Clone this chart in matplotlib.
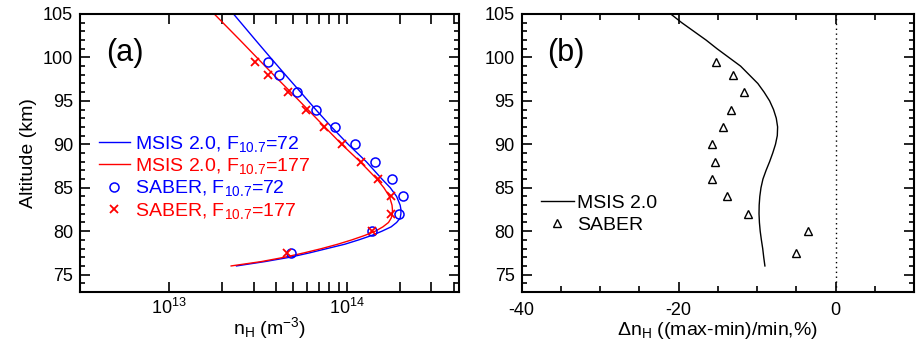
import numpy as np
import matplotlib
matplotlib.use('Agg')
import matplotlib.pyplot as plt
from matplotlib.ticker import FixedLocator, NullFormatter, MultipleLocator

plt.rcParams['font.family'] = ['Liberation Sans', 'DejaVu Sans']
plt.rcParams['mathtext.fontset'] = 'custom'
plt.rcParams['mathtext.rm'] = 'Liberation Sans'
plt.rcParams['mathtext.it'] = 'Liberation Sans'
plt.rcParams['axes.unicode_minus'] = False

# SABER retrievals (altitude in km, n_H in m^-3)
saber_alt = [99.5, 98, 96, 94, 92, 90, 88, 86, 84, 82, 80, 77.5]
saber_f72 = [3.62e13, 4.14e13, 5.25e13, 6.76e13, 8.65e13, 1.11e14,
             1.44e14, 1.79e14, 2.07e14, 1.98e14, 1.39e14, 4.88e13]
saber_f177 = [3.05e13, 3.60e13, 4.65e13, 5.90e13, 7.47e13, 9.39e13,
              1.21e14, 1.51e14, 1.77e14, 1.77e14, 1.38e14, 4.61e13]
saber_diff = [-15.2, -13.1, -11.7, -13.3, -14.4, -15.8,
              -15.4, -15.7, -13.8, -11.1, -3.5, -5.1]

# MSIS 2.0 profiles, n_H in units of 1e13 m^-3
msis_alt = [76.0, 76.5, 77.0, 77.5, 78.0, 78.5, 79.0, 79.5, 80.0, 80.5, 81.0,
            81.5, 82.0, 82.5, 83.0, 84.0, 85.0, 86.0, 88.0, 90.0, 92.0, 94.0,
            96.0, 98.0, 100.0, 102.0, 105.0]
msis_f72 = [2.40, 3.47, 4.79, 6.17, 7.76, 9.77, 11.7, 13.8, 15.8, 17.8, 19.1,
            20.0, 20.2, 20.2, 20.0, 19.1, 17.6, 15.8, 12.9, 10.2, 8.22, 6.70,
            5.51, 4.52, 3.72, 3.07, 2.31]
msis_f177 = [2.24, 3.31, 4.47, 5.75, 7.24, 8.91, 10.7, 12.6, 14.5, 16.0, 17.2,
             17.8, 18.1, 18.1, 18.0, 17.4, 16.2, 14.8, 11.9, 9.38, 7.53, 6.05,
             4.85, 3.88, 3.12, 2.51, 1.80]

# MSIS 2.0 relative difference (%)
diff_alt = [76, 77, 78, 79, 80, 81, 82, 83, 84, 85, 86, 87, 88, 89, 90, 91,
            92, 93, 94, 95, 96, 97, 98, 99, 100, 101, 102, 104, 105]
msis_diff = [-9.0, -9.15, -9.28, -9.45, -9.6, -9.7, -9.75, -9.73, -9.65, -9.5,
             -9.25, -8.85, -8.4, -8.0, -7.65, -7.42, -7.38, -7.55, -7.9, -8.4,
             -9.1, -9.9, -11.0, -12.1, -13.6, -15.1, -16.5, -19.6, -21.0]


def style_axis(ax):
    for sp in ax.spines.values():
        sp.set_linewidth(1.5)
    ax.tick_params(which='both', direction='in', top=True, right=True,
                   width=1.2, labelsize=13, pad=5)
    ax.tick_params(axis='y', which='major', length=7.5)
    ax.tick_params(axis='y', which='minor', length=3.8)
    ax.set_ylim(73, 105)
    ax.yaxis.set_major_locator(MultipleLocator(5))
    ax.yaxis.set_minor_locator(MultipleLocator(1))


fig = plt.figure(figsize=(9.17, 3.43), dpi=100)
ax1 = fig.add_axes([0.0872, 0.1487, 0.4136, 0.8105])
ax2 = fig.add_axes([0.5689, 0.1487, 0.4278, 0.8105])

# panel (a): densities
n72 = np.array(msis_f72) * 1e13
n177 = np.array(msis_f177) * 1e13
ax1.plot(n72, msis_alt, color='#0000ff', lw=1.0,
         label='MSIS 2.0, F$_{10.7}$=72')
ax1.plot(n177, msis_alt, color='#ff0000', lw=1.0,
         label='MSIS 2.0, F$_{10.7}$=177')
ax1.plot(saber_f72, saber_alt, 'o', ms=6.5, mfc='none', mec='#0000ff',
         mew=1.1, label='SABER, F$_{10.7}$=72')
ax1.plot(saber_f177, saber_alt, 'x', ms=6, mec='#ff0000', mew=1.3,
         label='SABER, F$_{10.7}$=177')
ax1.set_xscale('log')
ax1.set_xlim(3.16e12, 4.3e14)
style_axis(ax1)
ax1.xaxis.set_major_locator(FixedLocator([1e13, 1e14]))
ax1.xaxis.set_minor_locator(FixedLocator(
    [k * 1e13 for k in range(2, 10)] + [k * 1e14 for k in range(2, 5)]))
ax1.xaxis.set_minor_formatter(NullFormatter())
ax1.set_xticklabels(['10$^{13}$', '10$^{14}$'])
ax1.tick_params(axis='x', which='both', length=7.5, pad=4)
ax1.set_xlabel('n$_\\mathrm{H}$ (m$^{-3}$)', fontsize=14, labelpad=-2)
ax1.set_ylabel('Altitude (km)', fontsize=14, labelpad=4)
ax1.text(0.069, 0.86, '(a)', transform=ax1.transAxes, fontsize=22,
         va='center', ha='left')
ax1.legend(loc='center left', bbox_to_anchor=(0.05, 0.413),
           frameon=False, fontsize=14, handlelength=1.6,
           handletextpad=0.25, labelspacing=0.12, borderpad=0,
           borderaxespad=0,
           labelcolor=['#0000ff', '#ff0000', '#0000ff', '#ff0000'])

# panel (b): relative change
ax2.plot(msis_diff, diff_alt, color='k', lw=1.0, label='MSIS 2.0')
ax2.plot(saber_diff, saber_alt, '^', ms=6, mfc='none', mec='k', mew=1.0,
         label='SABER')
ax2.axvline(0, color='k', lw=1.0, ls=(0, (1, 2.5)))
ax2.set_xlim(-40, 10)
style_axis(ax2)
ax2.xaxis.set_major_locator(FixedLocator([-40, -20, 0]))
ax2.xaxis.set_minor_locator(MultipleLocator(5))
ax2.tick_params(axis='x', which='major', length=7.5, pad=7)
ax2.tick_params(axis='x', which='minor', length=4.5)
ax2.set_xlabel('\u0394n$_\\mathrm{H}$ ((max-min)/min,%)', fontsize=14,
               labelpad=1)
ax2.text(0.065, 0.86, '(b)', transform=ax2.transAxes, fontsize=22,
         va='center', ha='left')
ax2.legend(loc='center left', bbox_to_anchor=(0.05, 0.28), frameon=False,
           fontsize=14, handlelength=1.66, handletextpad=0.2,
           labelspacing=0.25, borderpad=0, borderaxespad=0)

fig.savefig('out.png', dpi=100)
